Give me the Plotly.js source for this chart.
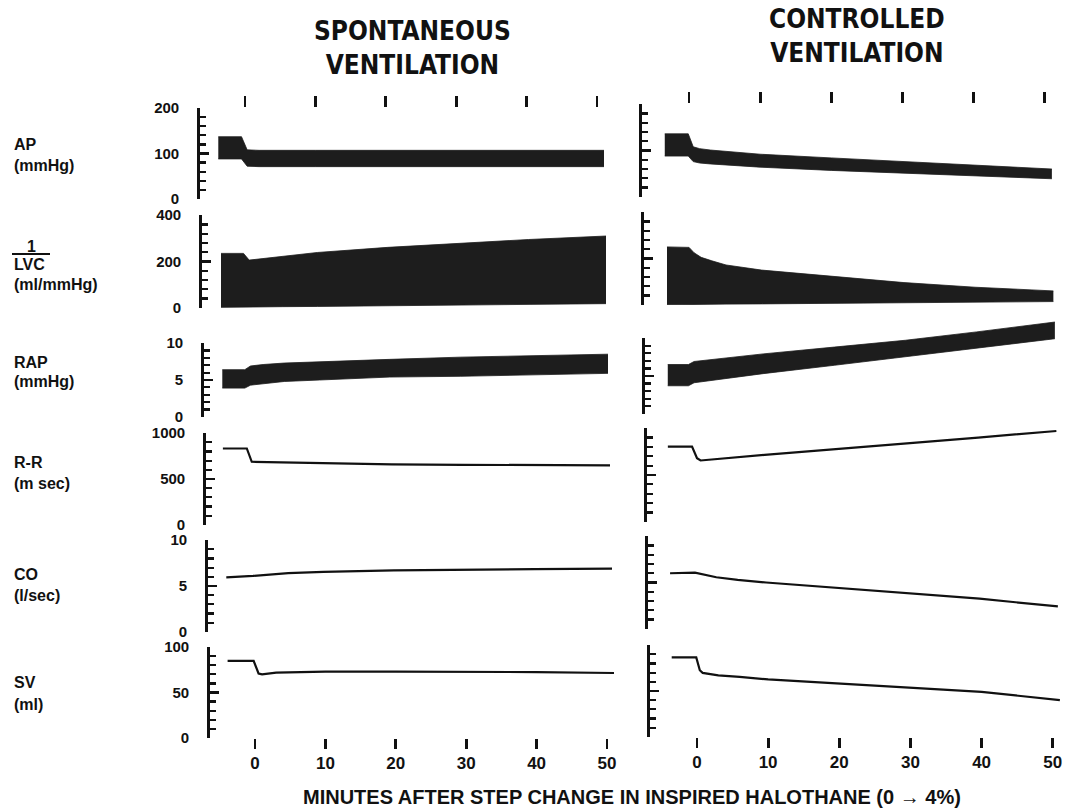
<!DOCTYPE html>
<html><head><meta charset="utf-8">
<script src="https://cdn.plot.ly/plotly-3.0.1.min.js"></script>
<style>html,body{margin:0;padding:0;background:#fff}#chart{width:1065px;height:809px}</style>
</head><body><div id="chart"></div>
<script>
// ---------------- DATA ----------------
// x: minutes after step change in inspired halothane
const xTicks = [0, 10, 20, 30, 40, 50];
const apTicks = [0, 100, 200];
const lvcTicks = [0, 200, 400];
const rapTicks = [0, 5, 10];
const rrTicks = [0, 500, 1000];
const coTicks = [0, 5, 10];
const svTicks = [0, 50, 100];

const rowNames = ['AP', '1', 'RAP', 'R-R', 'CO', 'SV'];
const rowUnits = ['(mmHg)', '(ml/mmHg)', '(mmHg)', '(m sec)', '(l/sec)', '(ml)'];
const colTitles = ['SPONTANEOUS<br>VENTILATION', 'CONTROLLED<br>VENTILATION'];
const xTitle = 'MINUTES AFTER STEP CHANGE IN INSPIRED HALOTHANE (0 \u2192 4%)';

// Spontaneous ventilation
const spAP_t  = [-3.8, -0.5, 0.3, 2, 10, 20, 30, 40, 51];
const spAP_hi = [137, 137, 108, 107, 107, 107, 107, 107, 107];
const spAP_lo = [88, 88, 72, 71, 71, 71, 71, 71, 71];

const spLVC_t  = [-3.7, -0.5, 0.3, 5, 10, 20, 30, 40, 51];
const spLVC_hi = [235, 235, 206, 221, 239, 261, 278, 295, 310];
const spLVC_lo = [2, 2, 3, 5, 6, 9, 12, 15, 18];

const spRAP_t  = [-3.8, -0.6, 0.2, 2, 5, 10, 20, 30, 40, 51];
const spRAP_hi = [6.4, 6.4, 6.9, 7.1, 7.3, 7.5, 7.8, 8.1, 8.3, 8.5];
const spRAP_lo = [3.9, 3.9, 4.3, 4.5, 4.8, 5.0, 5.4, 5.5, 5.7, 5.9];

const spRR_t = [-4, -0.6, 0.1, 5, 10, 20, 30, 40, 51];
const spRR   = [833, 833, 688, 680, 670, 660, 655, 652, 649];

const spCO_t = [-3.8, 0, 5, 10, 20, 30, 40, 51];
const spCO   = [5.94, 6.1, 6.4, 6.55, 6.7, 6.8, 6.85, 6.9];

const spSV_t = [-3.9, -0.2, 0.5, 1, 3, 10, 20, 30, 40, 51];
const spSV   = [85, 85, 71, 70, 72, 73, 73, 73, 72.5, 71.5];

// Controlled ventilation
const ctAP_t  = [-3.4, -0.1, 0.6, 1.5, 3, 5, 10, 20, 30, 40, 51];
const ctAP_hi = [136, 136, 108, 104, 101, 98, 92, 84, 76, 69, 60];
const ctAP_lo = [88, 88, 76, 73, 71, 69, 64, 57, 51, 46, 39];

const ctLVC_t  = [-3.3, -0.8, -0.2, 0.5, 1.5, 3, 5, 10, 20, 30, 40, 51];
const ctLVC_hi = [250, 250, 248, 225, 205, 190, 172, 150, 122, 96, 76, 60];
const ctLVC_lo = [0, 0, 0, 1, 1, 2, 3, 4, 7, 9, 11, 14];

const ctRAP_t  = [-3.4, -0.5, 0.3, 5, 10, 20, 30, 40, 51];
const ctRAP_hi = [6.5, 6.5, 6.9, 7.4, 7.9, 8.8, 9.7, 10.8, 12.1];
const ctRAP_lo = [3.7, 3.7, 4.1, 4.7, 5.3, 6.4, 7.5, 8.6, 9.9];

const ctRR_t = [-3.6, -0.2, 0.5, 1, 10, 20, 30, 40, 51];
const ctRR   = [804, 804, 680, 655, 715, 775, 840, 900, 970];

const ctCO_t = [-3.5, 0, 3, 6, 10, 20, 30, 40, 51];
const ctCO   = [6.0, 6.07, 5.57, 5.28, 5.0, 4.4, 3.86, 3.25, 2.42];

const ctSV_t = [-3.55, -0.1, 0.4, 0.8, 3, 6, 10, 20, 30, 40, 51];
const ctSV   = [86.6, 86.6, 72.7, 69.8, 67, 65.5, 62.6, 58.2, 53.9, 49.1, 40];

// ---------------- LAYOUT / STYLE ----------------
const W = 1065, H = 809;
const INK = '#111111', FILL = '#1d1d1d';
const FONT = '"Liberation Sans", Arial, Helvetica, sans-serif';
const TFONT = '"Liberation Sans Narrow", "DejaVu Sans Condensed", "Liberation Sans", Arial, sans-serif';
const px = p => p / W;
const py = p => 1 - p / H;

const tickSets = [apTicks, lvcTicks, rapTicks, rrTicks, coTicks, svTicks];
const rowsPx = [
  [[108,199],[215,308],[343,417],[433,525],[540,632],[647,738]],
  [[104,197],[212,305],[338,414],[428,522],[536,629],[645,737]]
];
const shifts = [[-10,-8,-6,-4,-2,0], [-8,-6.5,-5,-3.5,-2,0]];
const xPx = [[210, 614], [650, 1062]];
const xRanges = [[-6.4, 51.0], [-6.6, 51.3]];

const series = [
  [{t:spAP_t, lo:spAP_lo, hi:spAP_hi}, {t:spLVC_t, lo:spLVC_lo, hi:spLVC_hi}, {t:spRAP_t, lo:spRAP_lo, hi:spRAP_hi},
   {t:spRR_t, y:spRR}, {t:spCO_t, y:spCO}, {t:spSV_t, y:spSV}],
  [{t:ctAP_t, lo:ctAP_lo, hi:ctAP_hi}, {t:ctLVC_t, lo:ctLVC_lo, hi:ctLVC_hi}, {t:ctRAP_t, lo:ctRAP_lo, hi:ctRAP_hi},
   {t:ctRR_t, y:ctRR}, {t:ctCO_t, y:ctCO}, {t:ctSV_t, y:ctSV}]
];

const traces = [];
const layout = {
  width: W, height: H, margin: {l:0, r:0, t:0, b:0},
  paper_bgcolor: '#fff', plot_bgcolor: 'rgba(0,0,0,0)',
  showlegend: false, annotations: [], shapes: [],
  font: {family: FONT, color: INK}
};
const tickFont = {family: FONT, size: 15, weight: 700, color: INK};
const SUFFIX = '\u2002\u2002';

function yAxisDef(domainPx, ticks, showLabels, anchor, visible) {
  const top = ticks[ticks.length - 1];
  const step = ticks[1] - ticks[0];
  return {
    domain: [py(domainPx[1]), py(domainPx[0])], range: [-top * 0.002, top * 1.002], anchor: anchor,
    showline: visible, linewidth: 2.8, linecolor: INK,
    ticks: visible ? 'inside' : '', ticklen: 9, tickwidth: 2.5, tickcolor: INK,
    tickmode: 'linear', tick0: ticks[0], dtick: step, ticksuffix: SUFFIX,
    showticklabels: showLabels,
    minor: visible ? {tick0: ticks[0], dtick: step / 5, ticks: 'inside', ticklen: 6, tickwidth: 2.2, tickcolor: INK} : {ticks: ''},
    showgrid: false, zeroline: false, fixedrange: true, tickfont: tickFont
  };
}

for (let c = 0; c < 2; c++) {
  for (let r = 0; r < 6; r++) {
    const k = c * 6 + r + 1;
    const xa = k === 1 ? 'x' : 'x' + k;
    const ya = k === 1 ? 'y' : 'y' + k;
    const s = series[c][r];
    if (s.lo) {
      traces.push({x: s.t, y: s.lo, xaxis: xa, yaxis: ya, mode: 'lines', line: {width: 0.8, color: FILL}, hoverinfo: 'skip'});
      traces.push({x: s.t, y: s.hi, xaxis: xa, yaxis: ya, mode: 'lines', fill: 'tonexty', fillcolor: FILL, line: {width: 0.8, color: FILL}, hoverinfo: 'skip'});
    } else {
      traces.push({x: s.t, y: s.y, xaxis: xa, yaxis: ya, mode: 'lines', line: {width: 2.2, color: INK}, hoverinfo: 'skip'});
    }
    const sh = shifts[c][r];
    const ticks = tickSets[r];
    const top = ticks[ticks.length - 1];
    const overflow = (c === 1 && r === 2);
    layout[(k === 1 ? 'xaxis' : 'xaxis' + k)] = {
      domain: [px(xPx[c][0] + sh), px(xPx[c][1] + sh)], range: xRanges[c], anchor: ya,
      showgrid: false, zeroline: false, showline: false, fixedrange: true,
      tickmode: 'array', tickvals: xTicks, ticktext: xTicks.map(String),
      ticks: (r === 0 || r === 5) ? 'outside' : '', ticklen: r === 0 ? 11 : 10, tickwidth: 2.8, tickcolor: INK,
      side: r === 0 ? 'top' : 'bottom', showticklabels: r === 5,
      tickfont: {family: FONT, size: 17, weight: 700, color: INK}
    };
    if (!overflow) {
      layout[(k === 1 ? 'yaxis' : 'yaxis' + k)] = yAxisDef(rowsPx[c][r], ticks, c === 0, xa, true);
    } else {
      // the band rises above the top of this axis: plot on an extended hidden axis,
      // and draw the visible 0..10 axis separately
      const [tp, bp] = rowsPx[c][r];
      const ext = 12.4;
      const tpExt = bp - ext * (bp - tp) / top;
      const hidden = yAxisDef([tpExt, bp], ticks, false, xa, false);
      hidden.range = [-top * 0.002, ext];
      layout['yaxis' + k] = hidden;
      layout['yaxis13'] = yAxisDef(rowsPx[c][r], ticks, false, xa, true);
      traces.push({x: [], y: [], xaxis: xa, yaxis: 'y13', mode: 'lines', hoverinfo: 'skip'});
    }
  }
}

// Row labels
const labelPx = [[144,166],[264,285],[362,381],[462,483],[574,595],[682,704]];
for (let r = 0; r < 6; r++) {
  const f = {family: FONT, size: 16, weight: 700, color: INK};
  if (r === 1) {
    layout.annotations.push({xref:'paper', yref:'paper', x: px(31), y: py(246), xanchor:'center', yanchor:'middle', text: rowNames[r], showarrow:false, font:f});
    layout.annotations.push({xref:'paper', yref:'paper', x: px(12), y: py(264), xanchor:'left', yanchor:'middle', text: 'LVC', showarrow:false, font:f});
    layout.shapes.push({type:'line', xref:'paper', yref:'paper', x0: px(12), x1: px(50), y0: py(254), y1: py(254), line:{color: INK, width: 2}});
  } else {
    layout.annotations.push({xref:'paper', yref:'paper', x: px(12), y: py(labelPx[r][0]), xanchor:'left', yanchor:'middle', text: rowNames[r], showarrow:false, font:f});
  }
  layout.annotations.push({xref:'paper', yref:'paper', x: px(12), y: py(labelPx[r][1]), xanchor:'left', yanchor:'middle', text: rowUnits[r], showarrow:false, font:f});
}

// Column titles
const titlePos = [[412, 48], [857, 36]];
for (let c = 0; c < 2; c++) {
  layout.annotations.push({xref:'paper', yref:'paper', x: px(titlePos[c][0]), y: py(titlePos[c][1]), xanchor:'center', yanchor:'middle',
    text: colTitles[c], showarrow:false, font:{family: TFONT, size: 26, weight: 700, color: INK}});
}

// X axis title
layout.annotations.push({xref:'paper', yref:'paper', x: px(632), y: py(797), xanchor:'center', yanchor:'middle', text: xTitle, showarrow:false,
  font:{family: FONT, size: 20, weight: 700, color: INK}});

Plotly.newPlot('chart', traces, layout, {staticPlot: true, displayModeBar: false});
</script></body></html>
